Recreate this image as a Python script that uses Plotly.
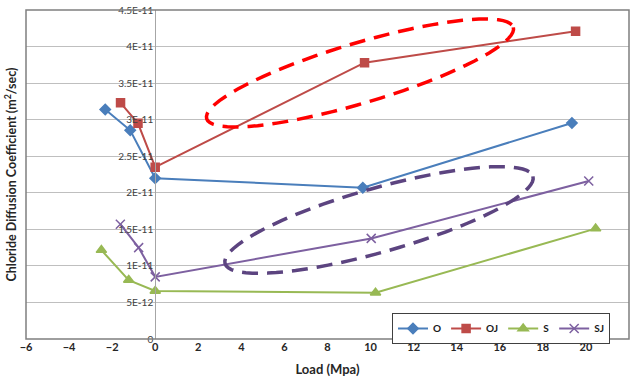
import numpy as np
import plotly.graph_objects as go

# ---- data ----
o_x = [-2.32, -1.16, 0.0, 9.64, 19.35]
o_y = [3.14e-11, 2.855e-11, 2.20e-11, 2.07e-11, 2.955e-11]

oj_x = [-1.61, -0.80, 0.0, 9.72, 19.52]
oj_y = [3.23e-11, 2.95e-11, 2.35e-11, 3.78e-11, 4.21e-11]

s_x = [-2.50, -1.23, 0.0, 10.23, 20.45]
s_y = [1.216e-11, 8.06e-12, 6.56e-12, 6.33e-12, 1.51e-11]

sj_x = [-1.62, -0.77, 0.0, 10.03, 20.13]
sj_y = [1.57e-11, 1.25e-11, 8.5e-12, 1.376e-11, 2.16e-11]

y_tickvals = [0, 5e-12, 1e-11, 1.5e-11, 2e-11, 2.5e-11, 3e-11, 3.5e-11, 4e-11, 4.5e-11]
y_ticktext = ["0", "5E-12", "1E-11", "1.5E-11", "2E-11", "2.5E-11", "3E-11", "3.5E-11", "4E-11", "4.5E-11"]
x_tickvals = list(range(-6, 23, 2))

X_RANGE = [-6, 22]
Y_RANGE = [0, 4.5e-11]

# ---- layout geometry ----
W, H = 635, 384
ML, MR, MT, MB = 26, 6, 10, 45
PW, PH = W - ML - MR, H - MT - MB

def px_to_data(px, py):
    x = X_RANGE[0] + (px - ML) / PW * (X_RANGE[1] - X_RANGE[0])
    y = Y_RANGE[0] + (MT + PH - py) / PH * (Y_RANGE[1] - Y_RANGE[0])
    return x, y

def ellipse_path(cx, cy, a, b, ang_deg, n=80):
    t = np.linspace(0, 2 * np.pi, n, endpoint=False)
    ang = np.radians(ang_deg)
    ex = a * np.cos(t)
    ey = b * np.sin(t)
    px = cx + ex * np.cos(ang) + ey * np.sin(ang)
    py = cy - ex * np.sin(ang) + ey * np.cos(ang)
    pts = [px_to_data(u, v) for u, v in zip(px, py)]
    return "M " + " L ".join(f"{x:.4f},{y:.4e}" for x, y in pts) + " Z"

FONT = "Lato"
fig = go.Figure()

series = [
    ("O", o_x, o_y, "#4A7EBB", "diamond", 8),
    ("OJ", oj_x, oj_y, "#BE4B48", "square", 8),
    ("S", s_x, s_y, "#98B954", "triangle-up", 9),
    ("SJ", sj_x, sj_y, "#7D60A0", "x-thin", 9),
]
for name, xs, ys, col, sym, sz in series:
    fig.add_trace(go.Scatter(
        x=xs, y=ys, name=name, mode="lines+markers",
        line=dict(color=col, width=2),
        marker=dict(symbol=sym, size=sz, color=col,
                    line=dict(color=col, width=1.5)),
    ))

fig.update_layout(
    width=W, height=H,
    margin=dict(l=ML, r=MR, t=MT, b=MB, autoexpand=False),
    paper_bgcolor="white", plot_bgcolor="white",
    font=dict(family=FONT, color="#262626"),
    showlegend=True,
    legend=dict(
        orientation="h", x=(610 - ML) / PW, y=(MT + PH - 313) / PH,
        xanchor="right", yanchor="top",
        bordercolor="#404040", borderwidth=1, bgcolor="white",
        font=dict(size=10, family=FONT, color="#1a1a1a", weight="bold"),
        itemwidth=30, tracegroupgap=0,
    ),
    xaxis=dict(
        range=X_RANGE, tickvals=x_tickvals, showgrid=False, zeroline=False,
        showline=False, ticks="", automargin=False, domain=[0, 1],
        tickfont=dict(size=11, family=FONT, color="#262626", weight="bold"),
        title=dict(text="Load (Mpa)", font=dict(size=13, family=FONT, weight="bold", color="#262626"),
                   standoff=12),
    ),
    yaxis=dict(
        range=Y_RANGE, tickvals=y_tickvals, ticktext=y_ticktext,
        showgrid=True, gridcolor="#BFBFBF", gridwidth=1, zeroline=False,
        anchor="free", position=(0 - X_RANGE[0]) / (X_RANGE[1] - X_RANGE[0]),
        showline=True, linecolor="#A6A6A6", linewidth=1, ticks="", automargin=False,
        tickfont=dict(size=10, family=FONT, color="#404040"),
    ),
)

# plot frame
fig.add_shape(type="rect", xref="paper", yref="paper", x0=0, y0=0, x1=1, y1=1,
              line=dict(color="#7F7F7F", width=1.5), layer="above")

# dashed ellipses (highlight marks)
fig.add_shape(type="path", xref="x", yref="y",
              path=ellipse_path(360, 73, 160, 30, 16.6),
              line=dict(color="#FF0000", width=3.5, dash="16px,9px"))
fig.add_shape(type="path", xref="x", yref="y",
              path=ellipse_path(379, 220, 160, 32, 15.8),
              line=dict(color="#5C4480", width=3.5, dash="16px,9px"))

# y axis title
fig.add_annotation(
    text="Chloride Diffusion Coefficient (m<sup>2</sup>/sec)",
    xref="paper", yref="paper", x=-16 / PW, y=0.5, textangle=-90,
    showarrow=False, xanchor="center", yanchor="middle",
    font=dict(size=12.5, family=FONT, weight="bold", color="#262626"),
)

fig.write_html("out.html")
